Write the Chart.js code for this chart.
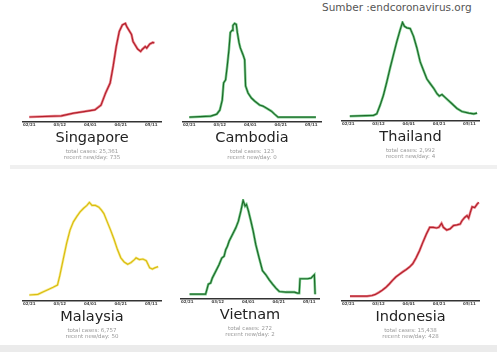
<!DOCTYPE html>
<html>
<head>
<meta charset="utf-8">
<script src="https://cdn.jsdelivr.net/npm/chart.js@4.4.1/dist/chart.umd.min.js"></script>
<style>
  body { margin:0; width:500px; height:363px; background:#fff; position:relative; overflow:hidden; font-family:"DejaVu Sans", sans-serif; }
  .panel { position:absolute; }
  .band { position:absolute; }
  #source { position:absolute; left:322px; top:1px; font-size:10.5px; color:#555; white-space:nowrap; }
</style>
</head>
<body>
<div id="source">Sumber :endcoronavirus.org</div>
<div class="band" style="left:10px;top:165px;width:487px;height:4px;background:#f0f0f0"></div>
<div class="band" style="left:0;top:345px;width:497px;height:7px;background:#ebebeb"></div>

<script>
// x = days since 02/21, y = new cases per day (smoothed)
const tickDays = [0, 20, 40, 60, 80];
const tickLabels = ['02/21', '03/12', '04/01', '04/21', '05/11'];

const countries = ['Singapore', 'Cambodia', 'Thailand', 'Malaysia', 'Vietnam', 'Indonesia'];
const totalCases = ['25,361', '123', '2,992', '6,757', '272', '15,438'];
const recentNew = ['735', '0', '4', '50', '2', '428'];

const sgDays = [0, 21, 29, 36, 43, 47, 50, 53, 55, 57, 59, 61, 63, 64, 67, 68, 71, 73, 74, 76, 77, 79, 81, 82];
const sgCases = [2, 13, 40, 56, 73, 120, 240, 340, 510, 705, 855, 920, 935, 900, 825, 755, 680, 655, 675, 705, 690, 730, 745, 740];

const khDays = [0, 14, 18, 20, 21.6, 22.5, 23.8, 24.9, 26, 26.9, 28, 28.6, 29.7, 30.8, 31.5, 32.6, 33.4, 35.2, 36.3, 36.9, 38.5, 40.7, 42.8, 46.1, 48.3, 50.5, 53.8, 55.9, 58.2, 83];
const khCases = [0, 0.1, 0.3, 0.7, 1.7, 3.4, 3.7, 5.1, 6.7, 8.4, 8.6, 9.1, 9.3, 9.2, 8.4, 7.4, 6.9, 6.2, 5.7, 3.1, 2.4, 1.9, 1.6, 1.2, 1.1, 0.9, 0.6, 0.3, 0, 0];

const thDays = [1, 16.6, 18.8, 21, 23.2, 25.4, 27.6, 29.8, 32, 34.2, 35.8, 37.1, 38.7, 40.9, 43.1, 45.3, 47.5, 49.7, 51.9, 54.1, 56.4, 58.6, 60.1, 61.9, 64.1, 66.3, 68.5, 71.8, 75.1, 79.6, 82.9, 85.1];
const thCases = [0, 1, 3, 14, 27, 44, 62, 79, 96, 111, 121, 116, 114, 113, 103, 88, 70, 59, 48, 42, 36, 29, 26, 28, 24, 20, 16, 10, 6, 4, 3, 4];

const myDays = [0, 5.6, 8.9, 12.2, 15.6, 18.5, 20, 22.2, 24.5, 26.7, 28.9, 31.1, 33.3, 35.6, 37.8, 39.4, 41.1, 43.3, 45.6, 47.3, 48.9, 51.1, 53.3, 55.6, 57.8, 60, 62.2, 64.5, 66.7, 68.9, 70, 72.2, 74.5, 76.7, 78.9, 80.7, 82.2, 84.5];
const myCases = [2, 3, 7, 11, 15, 19, 35, 62, 90, 112, 126, 135, 143, 149, 154, 159, 154, 154, 151, 146, 140, 126, 112, 96, 79, 65, 58, 54, 57, 62, 65, 62, 63, 60, 48, 46, 48, 50];

const vnDays = [1.5, 12, 13.1, 13.8, 15.3, 16.4, 18.6, 20.8, 22.6, 24.1, 25.2, 26.3, 27.4, 29.6, 31.8, 33.5, 35.1, 36.6, 37.9, 38.8, 40.1, 41.7, 43.2, 44.9, 47.1, 49.3, 51.5, 53.7, 55.9, 58.1, 60.3, 64.7, 70.2, 72.3, 73.4, 73.9, 75.6, 78.9, 81.1, 82.2, 83.3, 83.8];
const vnCases = [0, 0, 0.54, 0.9, 1, 1.44, 2.04, 2.64, 3.24, 3.39, 3.99, 4.29, 4.74, 5.34, 5.94, 6.54, 7.44, 8.4, 7.89, 8.04, 7.44, 6.54, 5.64, 4.44, 3.24, 2.1, 1.74, 1.29, 0.9, 0.54, 0.24, 0.18, 0.18, 0.09, 0.09, 1.38, 1.38, 1.38, 1.44, 1.59, 1.74, 0];

const idDays = [1.1, 12.4, 15.7, 17.9, 20.2, 22.4, 24.7, 26.9, 29.2, 31.4, 33.6, 35.9, 38.1, 40.4, 42.6, 44.8, 47.1, 49.3, 51.6, 53.8, 56, 58.3, 59.8, 61.6, 62.8, 65, 67.2, 69.5, 71.7, 73.9, 75.1, 76.9, 78.4, 79.5, 80.6, 81.8, 83.5, 85.1, 86.2];
const idCases = [0, 0, 3, 8, 17, 27, 39, 54, 72, 87, 98, 110, 120, 132, 147, 174, 207, 245, 282, 312, 312, 309, 312, 330, 312, 300, 305, 320, 323, 327, 342, 357, 365, 354, 380, 405, 402, 417, 425];

const seriesDays = [sgDays, khDays, thDays, myDays, vnDays, idDays];
const seriesCases = [sgCases, khCases, thCases, myCases, vnCases, idCases];

// layout + colours, one per panel
const red = {core: '#b3202c', halo: '#ec8a92'};
const green = {core: '#1e6a2a', halo: '#80d092'};
const yellow = {core: '#d9bd10', halo: '#f8ec9a'};
const layout = [
  {left: 22, top: 18, width: 140, colors: red},
  {left: 182, top: 18, width: 140, colors: green},
  {left: 341, top: 17, width: 139, colors: green},
  {left: 22, top: 197, width: 140, colors: yellow},
  {left: 180, top: 195, width: 140, colors: green},
  {left: 341, top: 197, width: 139, colors: red}
];

countries.forEach((name, i) => {
  const box = layout[i];
  const div = document.createElement('div');
  div.className = 'panel';
  div.style.left = box.left + 'px';
  div.style.top = box.top + 'px';
  div.style.width = box.width + 'px';
  div.style.height = '143px';
  const canvas = document.createElement('canvas');
  div.appendChild(canvas);
  document.body.appendChild(div);

  const pts = seriesDays[i].map((d, j) => ({x: d, y: seriesCases[i][j]}));
  const peak = Math.max(...seriesCases[i]);

  new Chart(canvas, {
    type: 'line',
    data: {
      datasets: [
        {data: pts, borderColor: box.colors.core, borderWidth: 1.2, pointRadius: 0, tension: 0},
        {data: pts, borderColor: box.colors.halo, borderWidth: 2.6, pointRadius: 0, tension: 0}
      ]
    },
    options: {
      responsive: true,
      maintainAspectRatio: false,
      animation: false,
      layout: {padding: {top: 4, left: 0, right: 0, bottom: 0}},
      plugins: {
        legend: {display: false},
        tooltip: {enabled: false},
        title: {
          display: true,
          position: 'bottom',
          weight: 1000,
          text: name,
          color: '#222',
          font: {family: 'DejaVu Sans', size: 14.5, weight: 'normal', lineHeight: 1.2},
          padding: {top: 1, bottom: 0}
        },
        subtitle: {
          display: true,
          position: 'bottom',
          weight: 2000,
          text: ['total cases: ' + totalCases[i], 'recent new/day: ' + recentNew[i]],
          color: '#9a9a9a',
          font: {family: 'DejaVu Sans', size: 5.5, lineHeight: 1.1},
          padding: {top: 2.3, bottom: 0}
        }
      },
      scales: {
        x: {
          type: 'linear',
          min: -4,
          max: 87,
          afterBuildTicks: s => { s.ticks = tickDays.map(v => ({value: v})); },
          grid: {display: false, drawTicks: false},
          border: {display: true, color: '#333', width: 1.5},
          ticks: {
            padding: 1,
            autoSkip: false,
            maxRotation: 0,
            color: '#444',
            font: {family: 'DejaVu Sans', size: 4, weight: 'bold'},
            callback: v => tickLabels[tickDays.indexOf(v)]
          }
        },
        y: {
          display: false,
          min: -peak * 0.045,
          max: peak * 1.015
        }
      }
    }
  });
});
</script>
</body>
</html>
